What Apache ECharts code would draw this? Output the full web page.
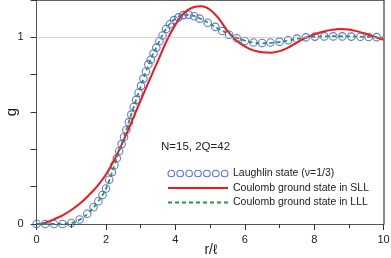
<!DOCTYPE html>
<html>
<head>
<meta charset="utf-8">
<script src="https://cdn.jsdelivr.net/npm/echarts@6/dist/echarts.min.js"></script>
<style>
html,body{margin:0;padding:0;background:#fff;}
#c{width:391px;height:258px;}
</style>
</head>
<body>
<div id="c"></div>
<script>
// ---- data ----
const xTickLabels = ['0', '2', '4', '6', '8', '10'];
const yTickLabels = ['0', '1'];
const xAxisName = 'r/\u2113';
const yAxisName = 'g';

const laughlinR = [0, 0.25, 0.5, 0.75, 1.0, 1.24, 1.46, 1.64, 1.78, 1.9, 2.0, 2.09, 2.17, 2.24, 2.31, 2.38, 2.45, 2.52, 2.59, 2.66, 2.73, 2.8, 2.87, 2.94, 3.01, 3.08, 3.15, 3.22, 3.29, 3.37, 3.45, 3.54, 3.63, 3.73, 3.84, 3.96, 4.09, 4.23, 4.38, 4.54, 4.7, 4.93, 5.15, 5.35, 5.55, 5.77, 6.0, 6.25, 6.5, 6.74, 7.0, 7.25, 7.5, 7.76, 8.02, 8.29, 8.55, 8.81, 9.07, 9.33, 9.57, 9.8];
const laughlinG = [0, 0, 0, 0, 0.005, 0.024, 0.055, 0.09, 0.122, 0.155, 0.19, 0.237, 0.278, 0.315, 0.352, 0.39, 0.428, 0.466, 0.505, 0.546, 0.586, 0.627, 0.665, 0.703, 0.74, 0.779, 0.817, 0.855, 0.88, 0.913, 0.945, 0.979, 1.01, 1.045, 1.07, 1.092, 1.107, 1.119, 1.121, 1.113, 1.1, 1.078, 1.056, 1.034, 1.014, 0.995, 0.98, 0.972, 0.97, 0.972, 0.977, 0.984, 0.993, 1.0, 1.004, 1.005, 1.005, 1.005, 1.004, 1.003, 1.002, 1.001];

const sllR = [0.15, 0.3, 0.5, 0.75, 1.0, 1.25, 1.5, 1.75, 2.0, 2.25, 2.5, 2.75, 3.0, 3.25, 3.5, 3.75, 4.0, 4.25, 4.5, 4.75, 5.0, 5.25, 5.5, 5.75, 6.0, 6.25, 6.5, 6.75, 7.0, 7.25, 7.5, 7.75, 8.0, 8.25, 8.5, 8.75, 9.0, 9.25, 9.5, 9.75, 10];
const sllG = [0, 0.01, 0.025, 0.046, 0.075, 0.11, 0.153, 0.203, 0.265, 0.348, 0.445, 0.552, 0.662, 0.77, 0.875, 0.982, 1.068, 1.13, 1.16, 1.166, 1.148, 1.1, 1.035, 0.985, 0.952, 0.93, 0.92, 0.918, 0.926, 0.945, 0.972, 0.997, 1.015, 1.03, 1.04, 1.045, 1.042, 1.032, 1.018, 1.002, 0.987];

const lllR = [0, 0.5, 0.8, 1.0, 1.25, 1.5, 1.75, 2.0, 2.25, 2.5, 2.75, 3.0, 3.25, 3.5, 3.75, 4.0, 4.25, 4.5, 4.75, 5.0, 5.25, 5.5, 5.75, 6.0, 6.25, 6.5, 6.75, 7.0, 7.25, 7.5, 7.75, 8.0, 8.5, 9.0, 9.5, 10];
const lllG = [0, 0, 0.002, 0.005, 0.024, 0.06, 0.115, 0.19, 0.32, 0.455, 0.6, 0.735, 0.865, 0.965, 1.05, 1.1, 1.12, 1.116, 1.098, 1.072, 1.045, 1.022, 1.0, 0.983, 0.972, 0.968, 0.97, 0.975, 0.983, 0.991, 0.998, 1.003, 1.006, 1.005, 1.002, 1.0];

const seriesNames = ['Laughlin state (\u03bd=1/3)', 'Coulomb ground state in SLL', 'Coulomb ground state in LLL'];
const annotation = 'N=15, 2Q=42';

// ---- chart ----
const pairs = (xs, ys) => xs.map((x, i) => [x, ys[i]]);
const FONT = 'Liberation Sans, Arial, sans-serif';
const BLUE = '#3a4cf4', RED = '#f01818', GREEN = '#1e9e3c';

// legend icon: row of small circles
let circlePath = 'path://';
for (let i = 0; i < 7; i++) {
  const cx = 3.5 + i * 9.4;
  circlePath += `M${cx - 3.5},4 A3.5,3.5 0 1,0 ${cx + 3.5},4 A3.5,3.5 0 1,0 ${cx - 3.5},4 Z `;
}

const chart = echarts.init(document.getElementById('c'), null, {renderer: 'canvas'});
chart.setOption({
  animation: false,
  backgroundColor: '#fff',
  textStyle: {fontFamily: FONT},
  grid: {left: 36.6, right: 7.4, top: 0, bottom: 34, containLabel: false, outerBoundsMode: 'none'},
  xAxis: [{
    type: 'value', min: 0, max: 10, interval: 2,
    axisLine: {onZero: false, lineStyle: {color: '#555', width: 1}},
    axisTick: {length: 6, lineStyle: {color: '#333'}},
    minorTick: {show: true, splitNumber: 2, length: 4, lineStyle: {color: '#333'}},
    axisLabel: {fontSize: 11, color: '#222', margin: 10,
      formatter: v => xTickLabels.includes(String(Math.round(v))) ? String(Math.round(v)) : ''},
    splitLine: {show: false}
  }, {
    type: 'value', min: 0, max: 10, position: 'top',
    axisLine: {show: true, onZero: false, lineStyle: {color: '#333', width: 1.5}},
    axisTick: {show: false}, axisLabel: {show: false}, splitLine: {show: false}
  }],
  yAxis: [{
    type: 'value', min: 0, max: 1.2, interval: 0.2,
    axisLine: {show: true, onZero: false, lineStyle: {color: '#555', width: 1}},
    axisTick: {show: true, length: 6, lineStyle: {color: '#333'}},
    axisLabel: {fontSize: 11, color: '#222', margin: 13,
      formatter: v => {
        const s = String(Math.round(v * 1000) / 1000);
        return yTickLabels.includes(s) ? s : '';
      }},
    splitLine: {show: false}
  }, {
    type: 'value', min: 0, max: 1.2, position: 'right',
    axisLine: {show: true, onZero: false, lineStyle: {color: '#8a8a8a', width: 2}},
    axisTick: {show: false}, axisLabel: {show: false}, splitLine: {show: false}
  }],
  legend: {
    left: 162, top: 163, orient: 'vertical',
    itemWidth: 60, itemHeight: 8, itemGap: 3.5,
    textStyle: {fontSize: 10.5, color: '#222', fontFamily: FONT},
    data: [
      {name: seriesNames[0], icon: circlePath,
       itemStyle: {color: 'transparent', borderColor: BLUE, borderWidth: 1.1}},
      {name: seriesNames[1], itemStyle: {opacity: 0}},
      {name: seriesNames[2], itemStyle: {opacity: 0}}
    ]
  },
  graphic: [{
    type: 'text', left: 161, top: 141,
    style: {text: annotation, fontSize: 11.5, fill: '#222', fontFamily: FONT}
  }, {
    type: 'text', x: 211, y: 250,
    style: {text: xAxisName, fontSize: 14, fill: '#222', fontFamily: FONT,
            textAlign: 'center', textVerticalAlign: 'middle'}
  }, {
    type: 'text', x: 12, y: 112, rotation: Math.PI / 2,
    style: {text: yAxisName, fontSize: 15, fill: '#222', fontFamily: FONT,
            textAlign: 'center', textVerticalAlign: 'middle'}
  }],
  series: [{
    name: seriesNames[0], type: 'scatter', z: 2,
    data: pairs(laughlinR, laughlinG),
    symbol: 'circle', symbolSize: 7.5,
    itemStyle: {color: 'transparent', borderColor: BLUE, borderWidth: 1.1},
    markLine: {
      silent: true, symbol: ['none', 'none'], label: {show: false},
      lineStyle: {type: 'dotted', color: '#b0b0b0', width: 1},
      data: [{yAxis: 1}]
    }
  }, {
    name: seriesNames[1], type: 'line', z: 3, smooth: 0.4,
    data: pairs(sllR, sllG), symbol: 'none', showSymbol: false,
    lineStyle: {color: RED, width: 2}, itemStyle: {color: RED}
  }, {
    name: seriesNames[2], type: 'line', z: 4, smooth: 0.4,
    data: pairs(lllR, lllG), symbol: 'none', showSymbol: false,
    lineStyle: {color: GREEN, width: 1.8, type: [4, 3]}, itemStyle: {color: GREEN}
  }]
});
</script>
</body>
</html>
